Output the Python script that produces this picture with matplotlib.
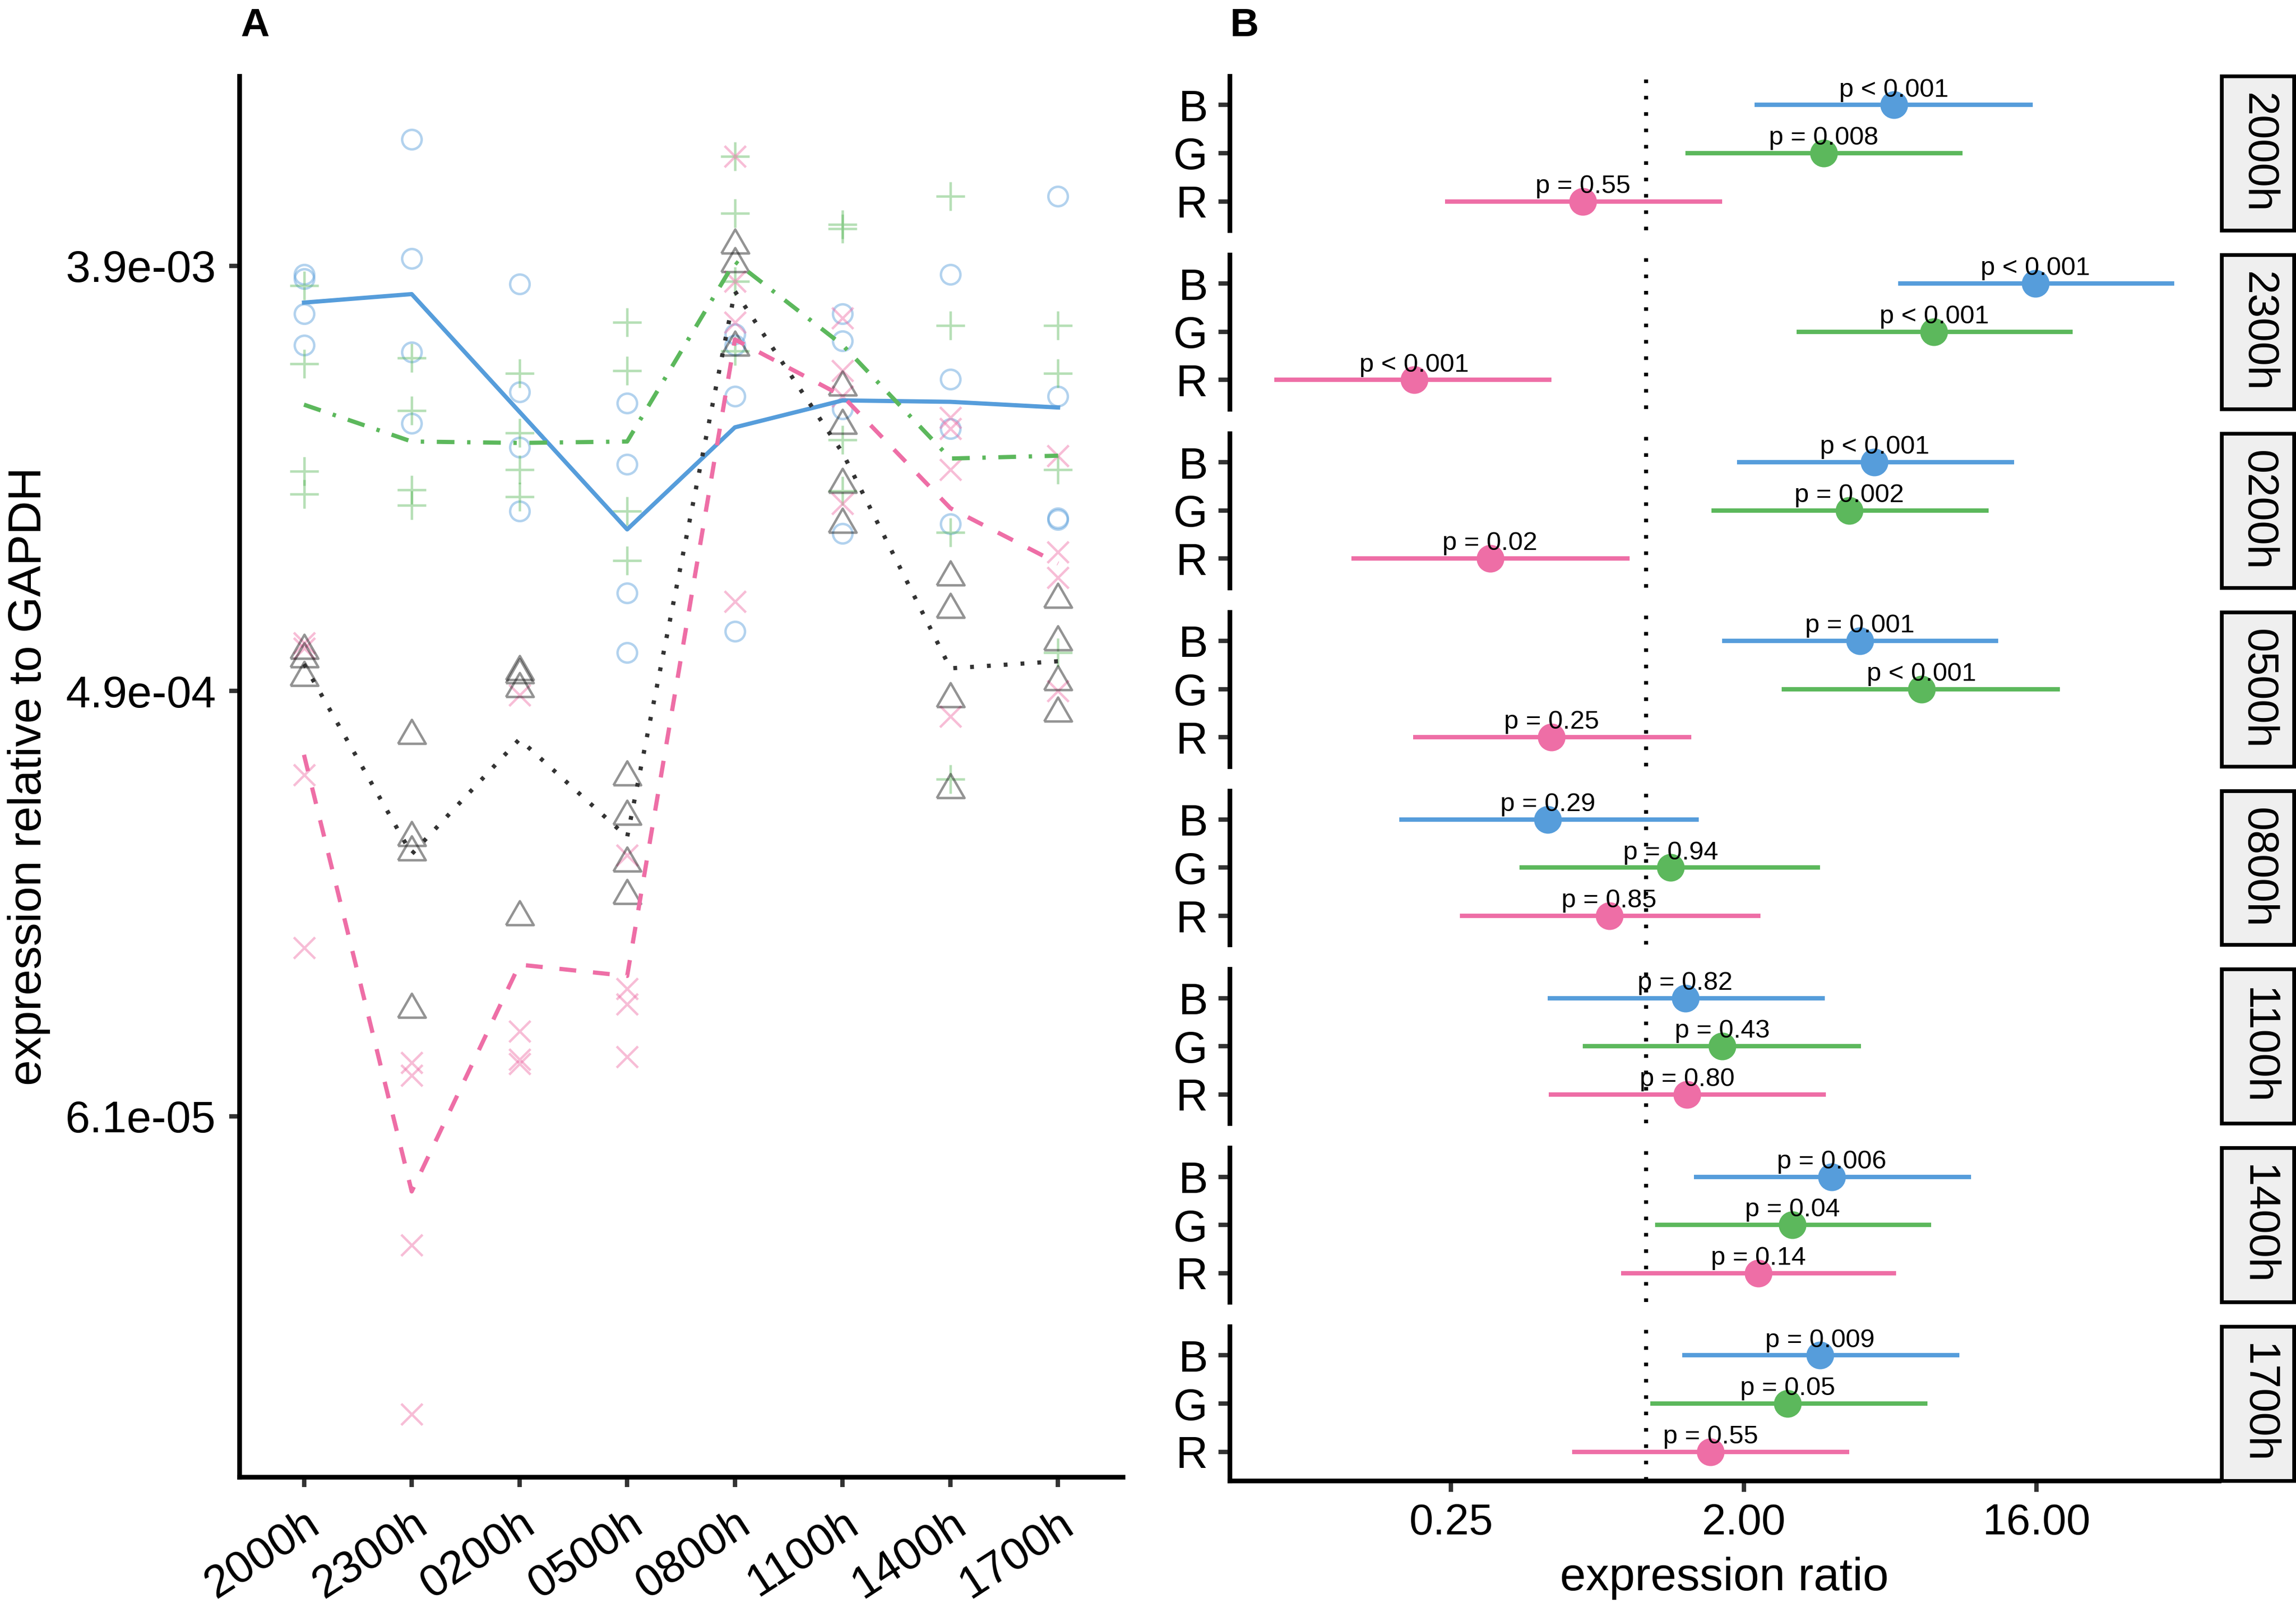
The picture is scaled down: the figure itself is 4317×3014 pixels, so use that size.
## Expression of GAPDH-normalised target over the day (A) and expression ratios per timepoint (B)

import numpy as np
import matplotlib
matplotlib.use('Agg')
import matplotlib.pyplot as plt
from matplotlib.patches import Rectangle
from matplotlib.ticker import NullLocator

plt.rcParams['font.family'] = ['Liberation Sans', 'DejaVu Sans']

# Timepoints (x categories of A, facets of B)
times = ['2000h', '2300h', '0200h', '0500h', '0800h', '1100h', '1400h', '1700h']

# Panel A: replicate values, stored as log2(expression relative to GAPDH)
blue_pts = [[-8.06, -8.09, -8.34, -8.56], [-7.11, -7.95, -8.61, -9.11],
            [-8.13, -8.89, -9.28, -9.73], [-8.97, -9.40, -10.31, -10.73],
            [-8.48, -8.56, -8.92, -10.58], [-8.34, -8.53, -9.01, -9.89],
            [-8.06, -8.80, -9.15, -9.82], [-7.51, -8.92, -9.78, -9.79]]
green_pts = [[-8.14, -8.69, -9.45, -9.61], [-8.65, -9.02, -9.58, -9.69],
             [-8.76, -9.18, -9.44, -9.63], [-8.40, -8.74, -9.73, -10.08],
             [-7.23, -7.63, -8.11, -8.60], [-7.71, -7.74, -9.23, -9.59],
             [-7.51, -8.42, -9.88, -11.62], [-8.42, -8.76, -9.44, -10.73]]
pink_pts = [[-10.66, -10.70, -11.59, -12.81], [-13.62, -13.71, -14.91, -16.10],
            [-11.03, -13.40, -13.60, -13.63], [-12.16, -13.10, -13.21, -13.58],
            [-7.23, -8.11, -8.40, -10.37], [-8.37, -8.74, -8.92, -9.68],
            [-9.07, -9.15, -9.44, -11.18], [-9.34, -10.02, -10.20, -11.00]]
gray_pts = [[-10.70, -10.76, -10.89], [-11.30, -12.02, -12.12, -13.23],
            [-10.85, -10.87, -10.97, -12.58], [-11.59, -11.87, -12.20, -12.43],
            [-7.84, -7.97, -8.56], [-8.84, -9.11, -9.53, -9.81],
            [-10.18, -10.41, -11.04, -11.68], [-10.34, -10.64, -10.92, -11.14]]

# Panel A: group mean lines (log2)
blue_mean = [-8.26, -8.20, -9.03, -9.86, -9.14, -8.95, -8.96, -9.00]
green_mean = [-8.98, -9.24, -9.25, -9.24, -7.97, -8.56, -9.36, -9.34]
pink_mean = [-11.45, -14.53, -12.93, -13.01, -8.52, -8.92, -9.71, -10.10]
gray_mean = [-10.81, -12.15, -11.34, -12.03, -8.18, -9.32, -10.84, -10.79]

# Panel B: log2 expression ratio, lower and upper interval bounds
ratio_B = [2.54, 3.99, 2.34, 2.19, -1.01, 0.40, 1.90, 1.78]
lo_B = [1.11, 2.58, 0.93, 0.78, -2.53, -1.01, 0.49, 0.37]
hi_B = [3.96, 5.41, 3.77, 3.61, 0.54, 1.83, 3.33, 3.21]
ratio_G = [1.82, 2.95, 2.08, 2.82, 0.25, 0.78, 1.50, 1.45]
lo_G = [0.40, 1.54, 0.67, 1.39, -1.30, -0.65, 0.09, 0.04]
hi_G = [3.24, 4.37, 3.51, 4.24, 1.78, 2.20, 2.92, 2.88]
ratio_R = [-0.65, -2.38, -1.60, -0.97, -0.38, 0.42, 1.15, 0.66]
lo_R = [-2.06, -3.81, -3.02, -2.39, -1.91, -1.00, -0.26, -0.76]
hi_R = [0.78, -0.97, -0.17, 0.46, 1.17, 1.84, 2.56, 2.08]

p_B = ['p < 0.001', 'p < 0.001', 'p < 0.001', 'p = 0.001', 'p = 0.29', 'p = 0.82', 'p = 0.006', 'p = 0.009']
p_G = ['p = 0.008', 'p < 0.001', 'p = 0.002', 'p < 0.001', 'p = 0.94', 'p = 0.43', 'p = 0.04', 'p = 0.05']
p_R = ['p = 0.55', 'p < 0.001', 'p = 0.02', 'p = 0.25', 'p = 0.85', 'p = 0.80', 'p = 0.14', 'p = 0.55']

# Colours
blue = '#569ddb'
green = '#5cb85c'
pink = '#ee6ea6'
dark = '#333333'

W, H = 4317, 3014


def box(left, top, right, bottom):
    # pixel box -> figure fraction [l, b, w, h]
    return [left / W, 1 - bottom / H, (right - left) / W, (bottom - top) / H]


fig = plt.figure(figsize=(W / 300, H / 300), dpi=300)

# ---------------- Panel A ----------------
axA = fig.add_axes(box(450, 143, 2111, 2777))
x = np.arange(1, len(times) + 1)

tri = [(-1, -0.73), (1, -0.73), (0, 1.0), (-1, -0.73)]
groups = [(blue_pts, blue, 'o', 8.8), (green_pts, green, '+', 13),
          (pink_pts, pink, 'x', 9.6), (gray_pts, '#111111', tri, 12.5)]
for pts, col, mk, ms in groups:
    for i, vals in enumerate(pts):
        axA.plot([x[i]] * len(vals), 2.0 ** np.array(vals), linestyle='none',
                 marker=mk, ms=ms, mfc='none', mec=col, mew=1.1, alpha=0.45)

axA.plot(x, 2.0 ** np.array(blue_mean), color=blue, lw=1.9)
axA.plot(x, 2.0 ** np.array(green_mean), color=green, lw=1.9, dashes=(4.2, 3, 0.8, 3))
axA.plot(x, 2.0 ** np.array(pink_mean), color=pink, lw=1.9, dashes=(4, 4))
axA.plot(x, 2.0 ** np.array(gray_mean), color=dark, lw=1.9, dashes=(0.9, 3.1))

axA.set_yscale('log', base=2)
axA.set_xlim(0.4, 8.6)
axA.set_ylim(2 ** -16.544, 2 ** -6.662)
axA.set_yticks([2 ** -8, 2 ** -11, 2 ** -14])
axA.set_yticklabels(['3.9e-03', '4.9e-04', '6.1e-05'])
axA.yaxis.set_minor_locator(NullLocator())
axA.set_xticks(x)
axA.set_xticklabels(times)
plt.setp(axA.get_xticklabels(), rotation=33, ha='right', va='top', rotation_mode='anchor')

for s in ['top', 'right']:
    axA.spines[s].set_visible(False)
for s in ['left', 'bottom']:
    axA.spines[s].set_linewidth(2.1)
axA.tick_params(axis='both', color=dark, width=2, length=4.5, labelsize=20)
axA.tick_params(axis='y', pad=6)
axA.tick_params(axis='x', pad=7, labelsize=20.5)

fig.text(55 / W, 1 - 1460 / H, 'expression relative to GAPDH', rotation=90,
         ha='center', va='center', fontsize=21)
fig.text(452 / W, 1 - 48 / H, 'A', fontsize=18, fontweight='bold', ha='left', va='center')

# ---------------- Panel B ----------------
top0, bot_all, gap = 143, 2784, 46
ph = (bot_all - top0 - 7 * gap) / 8
rows = [(ratio_B, lo_B, hi_B, p_B, blue, 3),
        (ratio_G, lo_G, hi_G, p_G, green, 2),
        (ratio_R, lo_R, hi_R, p_R, pink, 1)]

for i, t in enumerate(times):
    top = top0 + i * (ph + gap)
    ax = fig.add_axes(box(2312, top, 4172, top + ph))
    ax.set_xscale('log', base=2)
    ax.set_xlim(2 ** -4.27, 2 ** 5.87)
    ax.set_ylim(0.4, 3.6)
    ax.axvline(1, color='black', lw=1.8, dashes=(0.9, 3.2), zorder=1)

    for ratio, lo, hi, pv, col, yy in rows:
        ax.hlines(yy, 2.0 ** lo[i], 2.0 ** hi[i], color=col, lw=2.0, zorder=2)
        ax.plot(2.0 ** ratio[i], yy, 'o', color=col, ms=12.5, mec='none', zorder=3)
        ax.annotate(pv[i], (2.0 ** ratio[i], yy), xytext=(0, 3.8), textcoords='offset points',
                    ha='center', va='baseline', fontsize=11.8, zorder=4)

    ax.set_yticks([3, 2, 1])
    ax.set_yticklabels(['B', 'G', 'R'])
    ax.xaxis.set_minor_locator(NullLocator())
    for s in ['top', 'right']:
        ax.spines[s].set_visible(False)
    ax.spines['left'].set_linewidth(2.1)
    ax.tick_params(axis='y', color=dark, width=2, length=5, labelsize=20, pad=5)

    if i == len(times) - 1:
        ax.spines['bottom'].set_linewidth(2.1)
        ax.set_xticks([0.25, 2, 16])
        ax.set_xticklabels(['0.25', '2.00', '16.00'])
        ax.tick_params(axis='x', color=dark, width=2, length=5, labelsize=19.5, pad=5)
    else:
        ax.spines['bottom'].set_visible(False)
        ax.set_xticks([])

    # facet strip on the right
    strip = box(4177, top, 4313, top + ph)
    fig.add_artist(Rectangle((strip[0], strip[1]), strip[2], strip[3], transform=fig.transFigure,
                             facecolor='#efefef', edgecolor='black', lw=1.7))
    fig.text(strip[0] + strip[2] / 2, strip[1] + strip[3] / 2, t, rotation=270,
             ha='center', va='center', fontsize=19.5)

fig.text(3242 / W, 1 - 2968 / H, 'expression ratio', ha='center', va='center', fontsize=21)
fig.text(2313 / W, 1 - 48 / H, 'B', fontsize=18, fontweight='bold', ha='left', va='center')

fig.savefig('out.png', dpi=300)
